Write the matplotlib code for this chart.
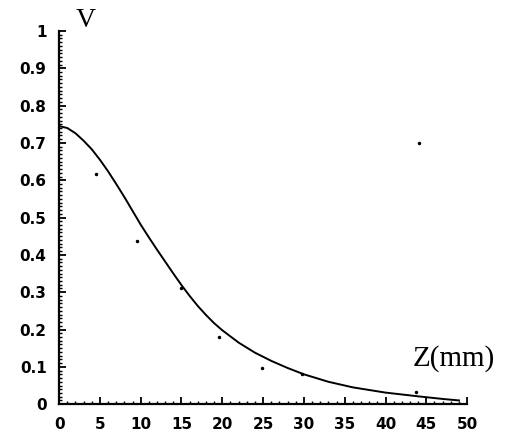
import matplotlib
matplotlib.use("Agg")
import matplotlib.pyplot as plt
from matplotlib.ticker import MultipleLocator

# Fitted curve
curve_z = [0, 1, 2, 3, 4, 5, 6, 7, 8, 9, 10, 11, 12, 13, 14, 15, 16, 17, 18, 19, 20,
           22, 24, 26, 28, 30, 33, 36, 40, 44, 47, 49]
curve_v = [0.745, 0.740, 0.726, 0.706, 0.683, 0.655, 0.624, 0.590, 0.555, 0.518, 0.481,
           0.447, 0.414, 0.382, 0.350, 0.319, 0.290, 0.263, 0.239, 0.217, 0.198,
           0.165, 0.138, 0.116, 0.097, 0.080, 0.060, 0.045, 0.031, 0.021, 0.014, 0.010]

# Measured points
pts_z = [4.5, 9.6, 15.0, 19.6, 24.9, 29.8, 43.7, 44.1]
pts_v = [0.617, 0.438, 0.31, 0.18, 0.098, 0.08, 0.032, 0.70]

y_ticks = [0, 0.1, 0.2, 0.3, 0.4, 0.5, 0.6, 0.7, 0.8, 0.9, 1]
y_labels = ['0', '0.1', '0.2', '0.3', '0.4', '0.5', '0.6', '0.7', '0.8', '0.9', '1']
x_ticks = [0, 5, 10, 15, 20, 25, 30, 35, 40, 45, 50]
x_labels = [str(t) for t in x_ticks]

fig = plt.figure(figsize=(5.05, 4.36), dpi=100)
ax = fig.add_axes([0.117, 0.073, 0.808, 0.856])

ax.plot(curve_z, curve_v, color='black', lw=1.4)
ax.plot(pts_z, pts_v, linestyle='none', marker='.', markersize=3, color='black')

ax.set_xlim(0, 50)
ax.set_ylim(0, 1)
ax.set_xticks(x_ticks)
ax.set_xticklabels(x_labels)
ax.set_yticks(y_ticks)
ax.set_yticklabels(y_labels)
ax.xaxis.set_minor_locator(MultipleLocator(1))
ax.yaxis.set_minor_locator(MultipleLocator(0.01))
ax.tick_params(which='major', direction='in', length=5, width=1.3, labelsize=11, pad=9)
ax.tick_params(which='minor', direction='in', length=2.5, width=1)
for lab in ax.get_xticklabels() + ax.get_yticklabels():
    lab.set_fontweight('bold')

for s in ['top', 'right']:
    ax.spines[s].set_visible(False)
for s in ['left', 'bottom']:
    ax.spines[s].set_linewidth(1.6)

fig.text(0.170, 0.954, 'V', fontsize=20, family='Liberation Serif', ha='center', va='center')
ax.text(0.966, 0.123, 'Z(mm)', fontsize=21, family='Liberation Serif', transform=ax.transAxes,
        ha='center', va='center')

fig.savefig('out.png', dpi=100)
